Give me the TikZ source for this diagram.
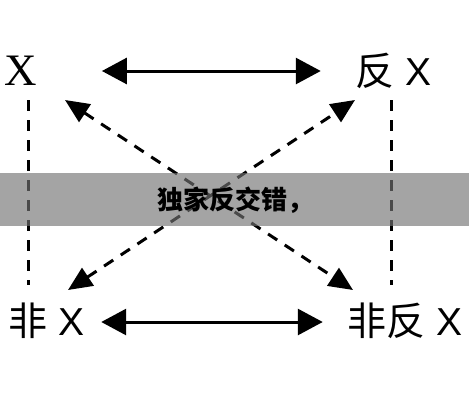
\documentclass[tikz,border=0pt]{standalone}
\usepackage{fontspec}
\setmainfont{Liberation Serif}
\setsansfont{Liberation Sans}
\newfontfamily\cjk{Noto Sans CJK SC}
\usepackage{tikz}
\usetikzlibrary{arrows.meta,positioning}
\usepackage{xcolor}
\definecolor{bannergray}{RGB}{115,115,115}

\begin{document}
\begin{tikzpicture}[x=1pt,y=-1pt,
    lbl/.style={inner sep=0pt,font=\fontsize{39}{39}\selectfont\sffamily},
    solidarr/.style={line width=3pt,{Triangle[length=25pt,width=26pt]}-{Triangle[length=25pt,width=26pt]}},
    dasharr/.style={line width=3pt,dash pattern=on 11pt off 9pt,
                    {Triangle[length=24pt,width=21pt]}-{Triangle[length=24pt,width=21pt]}},
    dashline/.style={line width=3pt,dash pattern=on 11pt off 9pt}]

    \useasboundingbox (0,0) rectangle (469,400);

    % the four statements
    \node[lbl,anchor=base west,font=\fontsize{45}{45}\selectfont\rmfamily] (x) at (4,85) {X};
    \node[lbl,anchor=base east] (fx) at (432,85) {{\cjk 反} X};
    \node[lbl,anchor=base west] (nx) at (8,335) {{\cjk 非} X};
    \node[lbl,anchor=base east] (nfx) at (463,335) {{\cjk 非反} X};

    % ends of the dashed lines
    \coordinate (lt) at (28,100);
    \coordinate (lb) at (28,285);
    \coordinate (rt) at (391,100);
    \coordinate (rb) at (391,285);
    \coordinate (dtl) at (65,100);
    \coordinate (dbr) at (353,290);
    \coordinate (dbl) at (68,290);
    \coordinate (dtr) at (355,100);

    \draw[solidarr] ([xshift=65pt,yshift=14pt]x.base east) -- ([xshift=-35pt,yshift=14pt]fx.base west);
    \draw[solidarr] ([xshift=17pt,yshift=13pt]nx.base east) -- ([xshift=-25pt,yshift=13pt]nfx.base west);

    \draw[dashline] (lt) -- (lb);
    \draw[dashline] (rt) -- (rb);
    \draw[dasharr] (dtl) -- (dbr);
    \draw[dasharr] (dbl) -- (dtr);

    % banner
    \fill[bannergray,fill opacity=0.65] (0,173) rectangle (469,226);
    \node[inner sep=0pt,anchor=west,font=\fontsize{26}{26}\selectfont\cjk\bfseries] (banner) at (157,200)
      {独家反交错，};
\end{tikzpicture}
\end{document}
